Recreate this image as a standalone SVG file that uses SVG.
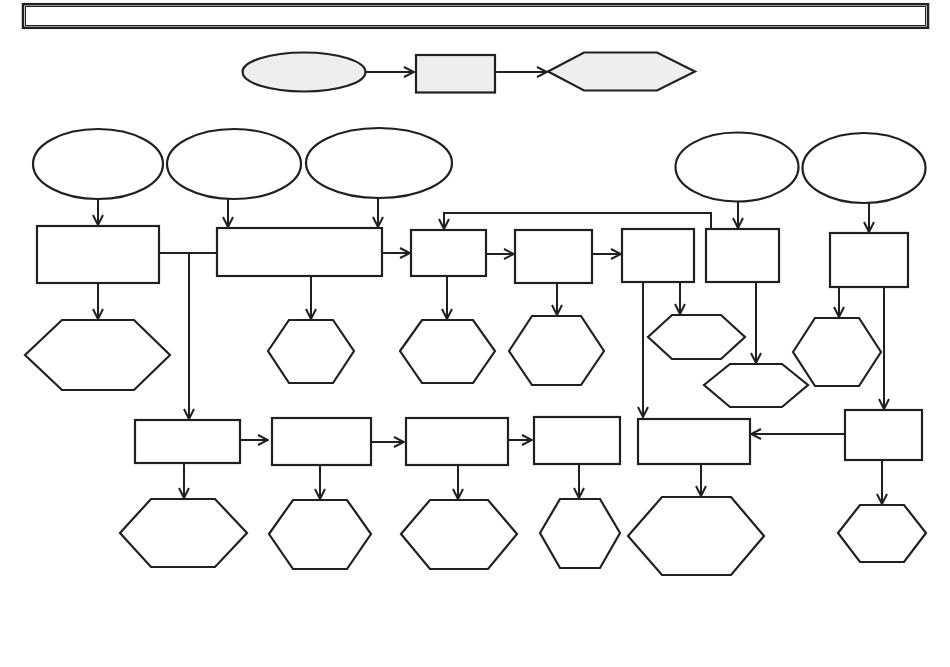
<svg xmlns="http://www.w3.org/2000/svg" width="950" height="667" viewBox="0 0 950 667">
<style>
.s{fill:#ffffff;stroke:#231f20;stroke-width:2.2}
.g{fill:#efeeed;stroke:#231f20;stroke-width:2.2}
.c{fill:none;stroke:#231f20;stroke-width:2}
</style>
<defs>
<marker id="a" viewBox="0 0 12 12" refX="11" refY="6" markerWidth="12" markerHeight="12" markerUnits="userSpaceOnUse" orient="auto">
<path d="M1,1 L11,6 L1,11" fill="none" stroke="#231f20" stroke-width="2"/>
</marker>
</defs>
<rect width="950" height="667" fill="#ffffff"/>
<g id="title">
<rect x="23" y="4.2" width="905" height="23.6" fill="none" stroke="#231f20" stroke-width="2.5"/>
<rect x="25.5" y="6.5" width="900" height="19" fill="none" stroke="#231f20" stroke-width="1"/>
</g>
<g id="legend-start"><ellipse class="g" cx="304" cy="72" rx="61.5" ry="19.5"/></g>
<g id="legend-process"><rect class="g" x="416" y="55" width="79" height="37.5"/></g>
<g id="legend-output"><polygon class="g" points="548,71.5 584,52.5 657,52.5 695,71.5 657,90.5 584,90.5"/></g>
<g id="E1"><ellipse class="s" cx="98" cy="164" rx="65" ry="35"/></g>
<g id="E2"><ellipse class="s" cx="234" cy="164" rx="67" ry="35"/></g>
<g id="E3"><ellipse class="s" cx="379" cy="163" rx="73" ry="35"/></g>
<g id="E4"><ellipse class="s" cx="737" cy="167" rx="61.5" ry="34.5"/></g>
<g id="E5"><ellipse class="s" cx="864" cy="168" rx="61.5" ry="35"/></g>
<g id="R1"><rect class="s" x="37" y="226" width="122" height="57"/></g>
<g id="R2"><rect class="s" x="217" y="228" width="165" height="48"/></g>
<g id="R3"><rect class="s" x="411" y="230" width="75" height="46"/></g>
<g id="R4"><rect class="s" x="515" y="230" width="77" height="53"/></g>
<g id="R5"><rect class="s" x="622" y="229" width="72" height="53"/></g>
<g id="R6"><rect class="s" x="706" y="229" width="73" height="53"/></g>
<g id="R7"><rect class="s" x="830" y="233" width="78" height="54"/></g>
<g id="H1"><polygon class="s" points="25,355 62,320 134,320 170,355 134,390 62,390"/></g>
<g id="H2"><polygon class="s" points="268,351 289,320 333,320 354,351 333,383 289,383"/></g>
<g id="H3"><polygon class="s" points="400,351 422,320 473,320 495,351 473,383 422,383"/></g>
<g id="H4"><polygon class="s" points="509,351 532,316 581,316 604,351 581,385 532,385"/></g>
<g id="H5"><polygon class="s" points="648,337 672,315 721,315 745,337 721,359 672,359"/></g>
<g id="H6"><polygon class="s" points="704,385 730,364 782,364 808,385 782,407 730,407"/></g>
<g id="H7"><polygon class="s" points="793,352 815,318 859,318 881,352 859,386 815,386"/></g>
<g id="Rb1"><rect class="s" x="135" y="420" width="105" height="43"/></g>
<g id="Rb2"><rect class="s" x="272" y="418" width="99" height="47"/></g>
<g id="Rb3"><rect class="s" x="406" y="418" width="102" height="47"/></g>
<g id="Rb4"><rect class="s" x="534" y="417" width="86" height="47"/></g>
<g id="Rb5"><rect class="s" x="638" y="419" width="112" height="45"/></g>
<g id="Rb6"><rect class="s" x="845" y="410" width="77" height="50"/></g>
<g id="Hb1"><polygon class="s" points="120,533 151,499 215,499 247,533 215,567 151,567"/></g>
<g id="Hb2"><polygon class="s" points="269,534 293,500 347,500 371,534 347,569 293,569"/></g>
<g id="Hb3"><polygon class="s" points="401,534 430,500 488,500 517,534 488,569 430,569"/></g>
<g id="Hb4"><polygon class="s" points="540,533 560,499 600,499 620,533 600,568 560,568"/></g>
<g id="Hb5"><polygon class="s" points="628,536 662,497 731,497 764,536 731,575 662,575"/></g>
<g id="Hb6"><polygon class="s" points="838,533 860,505 904,505 926,533 904,562 860,562"/></g>
<g id="connectors">
<line class="c" x1="365" y1="72" x2="414" y2="72" marker-end="url(#a)"/>
<line class="c" x1="495" y1="72" x2="547" y2="72" marker-end="url(#a)"/>
<line class="c" x1="98" y1="199" x2="98" y2="225" marker-end="url(#a)"/>
<line class="c" x1="228" y1="199" x2="228" y2="227" marker-end="url(#a)"/>
<line class="c" x1="378" y1="198" x2="378" y2="227" marker-end="url(#a)"/>
<line class="c" x1="738" y1="202" x2="738" y2="228" marker-end="url(#a)"/>
<line class="c" x1="869" y1="203" x2="869" y2="232" marker-end="url(#a)"/>
<line class="c" x1="159" y1="253" x2="217" y2="253"/>
<polyline class="c" points="189,253 189,419" marker-end="url(#a)"/>
<line class="c" x1="98" y1="283" x2="98" y2="319" marker-end="url(#a)"/>
<line class="c" x1="311" y1="276" x2="311" y2="319" marker-end="url(#a)"/>
<line class="c" x1="382" y1="253" x2="410" y2="253" marker-end="url(#a)"/>
<line class="c" x1="447" y1="276" x2="447" y2="319" marker-end="url(#a)"/>
<line class="c" x1="486" y1="254" x2="514" y2="254" marker-end="url(#a)"/>
<line class="c" x1="557" y1="283" x2="557" y2="315" marker-end="url(#a)"/>
<line class="c" x1="592" y1="254" x2="621" y2="254" marker-end="url(#a)"/>
<polyline class="c" points="711,229 711,213 444,213 444,229" marker-end="url(#a)"/>
<line class="c" x1="680" y1="282" x2="680" y2="314" marker-end="url(#a)"/>
<line class="c" x1="643" y1="282" x2="643" y2="417" marker-end="url(#a)"/>
<line class="c" x1="756" y1="282" x2="756" y2="363" marker-end="url(#a)"/>
<line class="c" x1="839" y1="287" x2="839" y2="317" marker-end="url(#a)"/>
<line class="c" x1="884" y1="287" x2="884" y2="409" marker-end="url(#a)"/>
<line class="c" x1="845" y1="434" x2="751" y2="434" marker-end="url(#a)"/>
<line class="c" x1="882" y1="460" x2="882" y2="504" marker-end="url(#a)"/>
<line class="c" x1="240" y1="440" x2="268" y2="440" marker-end="url(#a)"/>
<line class="c" x1="371" y1="442" x2="404" y2="442" marker-end="url(#a)"/>
<line class="c" x1="508" y1="440" x2="532" y2="440" marker-end="url(#a)"/>
<line class="c" x1="184" y1="463" x2="184" y2="498" marker-end="url(#a)"/>
<line class="c" x1="320" y1="465" x2="320" y2="499" marker-end="url(#a)"/>
<line class="c" x1="458" y1="465" x2="458" y2="499" marker-end="url(#a)"/>
<line class="c" x1="579" y1="464" x2="579" y2="498" marker-end="url(#a)"/>
<line class="c" x1="701" y1="464" x2="701" y2="496" marker-end="url(#a)"/>
</g>
</svg>
